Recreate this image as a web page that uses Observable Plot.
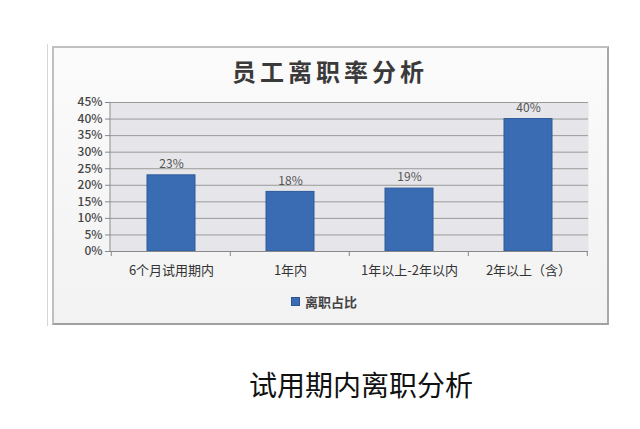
<!DOCTYPE html>
<html>
<head>
<meta charset="utf-8">
<script src="https://cdn.jsdelivr.net/npm/d3@7"></script>
<script src="https://cdn.jsdelivr.net/npm/@observablehq/plot@0.6"></script>
<style>
  body { margin: 0; background: #fff; font-family: "Noto Sans CJK SC", sans-serif; }
  #wrap { position: relative; width: 640px; height: 429px; overflow: hidden; }
  #edge { position: absolute; left: 47px; top: 44px; width: 1px; height: 282px; background: #d6d6d6; }
  #frame { position: absolute; left: 52px; top: 46px; width: 553px; height: 275px;
           border: 2px solid #c0c0c0; border-right-color: #a8a8a8; border-bottom-color: #a0a0a0;
           background: linear-gradient(#fbfbfb, #f2f2f2); }
  #title { position: absolute; left: 0; width: 660px; top: 55px; text-align: center;
           font-size: 24px; font-weight: bold; color: #3a3a3a; letter-spacing: 4px; line-height: 32px; }
  #plot { position: absolute; left: 0; top: 0; }
  #legend { position: absolute; left: 291px; top: 293px; font-size: 13px; color: #444; font-weight: bold; line-height: 18px; }
  #legend span.sw { display: inline-block; width: 7px; height: 7px; background: #3a6cb3; border: 1px solid #2b5590; margin-right: 5px; vertical-align: 1px; }
  #caption { position: absolute; left: 0; width: 722px; top: 365px; text-align: center;
             font-size: 28px; color: #111; line-height: 38px; }
</style>
</head>
<body>
<div id="wrap">
  <div id="edge"></div>
  <div id="frame"></div>
  <div id="title">员工离职率分析</div>
  <div id="plot"></div>
  <div id="legend"><span class="sw"></span>离职占比</div>
  <div id="caption">试用期内离职分析</div>
</div>
<script>
const categories = ["6个月试用期内", "1年内", "1年以上-2年以内", "2年以上（含）"];
const values = [0.23, 0.18, 0.19, 0.40];
const yTicks = [0, 0.05, 0.10, 0.15, 0.20, 0.25, 0.30, 0.35, 0.40, 0.45];
const seriesName = "离职占比";

const data = categories.map((c, i) => ({category: c, value: values[i]}));
const fmt = d3.format(".0%");

const chart = Plot.plot({
  width: 640,
  height: 300,
  marginLeft: 110,
  marginRight: 52,
  marginTop: 102,
  marginBottom: 49,
  style: {background: "transparent", fontFamily: "\"Noto Sans CJK SC\", sans-serif"},
  x: {domain: categories, paddingInner: 0.6, paddingOuter: 0.3, label: null},
  y: {domain: [0, 0.45], label: null},
  marks: [
    Plot.frame({fill: "#e6e6ea", stroke: null}),
    Plot.ruleY(yTicks.slice(1), {stroke: "#9a9a9a", strokeWidth: 1}),
    Plot.axisY({ticks: yTicks, tickFormat: fmt, tickSize: 5, tickPadding: 3, fontSize: 12, fontWeight: 500, fill: "#444", stroke: "#888", label: null}),
    Plot.axisX({tickSize: 0, tickPadding: 14, fontSize: 13, fill: "#333", label: null}),
    Plot.barY(data, {x: "category", y: "value", fill: "#3a6cb3", stroke: "#2d5a99", strokeWidth: 1}),
    Plot.text(data, {x: "category", y: "value", text: d => fmt(d.value), dy: -11, fontSize: 12, fill: "#555"}),
    Plot.ruleY([0], {stroke: "#888"})
  ]
});

// left axis line and category boundary tick marks (Excel style)
const svg = d3.select(chart);
svg.append("line").attr("x1", 110).attr("x2", 110).attr("y1", 102).attr("y2", 251).attr("stroke", "#888");
const xs = chart.scale("x");
const step = xs.step;
const x0 = xs.apply(categories[0]) - step * 0.3;
for (let i = 0; i <= categories.length; i++) {
  const xx = x0 + i * step;
  svg.append("line").attr("x1", xx).attr("x2", xx).attr("y1", 251).attr("y2", 256).attr("stroke", "#888");
}
document.getElementById("plot").appendChild(chart);
</script>
</body>
</html>
